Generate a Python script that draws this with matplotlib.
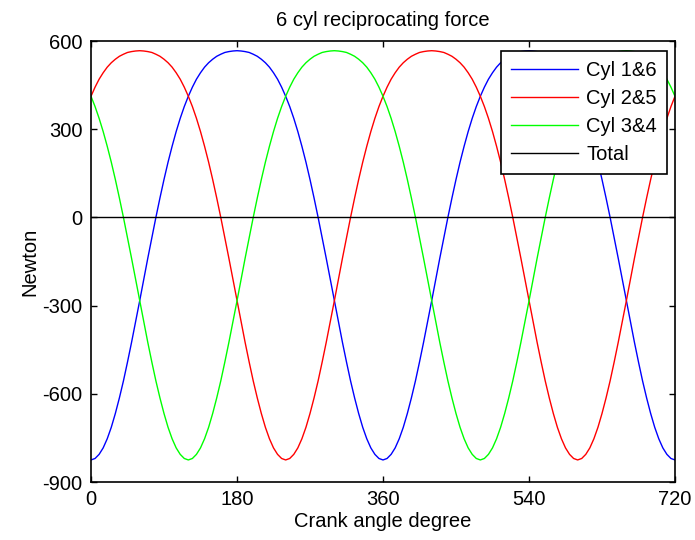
import matplotlib
matplotlib.use('Agg')
import matplotlib.pyplot as plt
import numpy as np

plt.rcParams['font.family'] = ['Liberation Sans', 'DejaVu Sans']
plt.rcParams['axes.unicode_minus'] = False

# one crank revolution, 5 degree steps
crank_rev = list(range(0, 360, 5))

# reciprocating force per cylinder pair over one revolution [N]
cyl16_rev = [-825, -820, -806, -784, -753, -714, -667, -614, -556, -492, -425, -355,
             -284, -211, -139, -69, 0, 66, 129, 188, 242, 292, 337, 377,
             412, 443, 470, 492, 511, 526, 538, 548, 555, 561, 564, 566,
             567, 566, 564, 561, 555, 548, 538, 526, 511, 492, 470, 443,
             412, 377, 337, 292, 242, 188, 129, 66, 0, -69, -139, -211,
             -284, -355, -425, -492, -556, -614, -667, -714, -753, -784, -806, -820]
cyl25_rev = [412, 443, 470, 492, 511, 526, 538, 548, 555, 561, 564, 566,
             567, 566, 564, 561, 555, 548, 538, 526, 511, 492, 470, 443,
             412, 377, 337, 292, 242, 188, 129, 66, 0, -69, -139, -211,
             -284, -355, -425, -492, -556, -614, -667, -714, -753, -784, -806, -820,
             -825, -820, -806, -784, -753, -714, -667, -614, -556, -492, -425, -355,
             -284, -211, -139, -69, 0, 66, 129, 188, 242, 292, 337, 377]
cyl34_rev = [412, 377, 337, 292, 242, 188, 129, 66, 0, -69, -139, -211,
             -284, -355, -425, -492, -556, -614, -667, -714, -753, -784, -806, -820,
             -825, -820, -806, -784, -753, -714, -667, -614, -556, -492, -425, -355,
             -284, -211, -139, -69, 0, 66, 129, 188, 242, 292, 337, 377,
             412, 443, 470, 492, 511, 526, 538, 548, 555, 561, 564, 566,
             567, 566, 564, 561, 555, 548, 538, 526, 511, 492, 470, 443]
total_rev = [0] * len(crank_rev)

labels = ['Cyl 1&6', 'Cyl 2&5', 'Cyl 3&4', 'Total']
x_ticks = [0, 180, 360, 540, 720]
y_ticks = [-900, -600, -300, 0, 300, 600]


def two_revs(rev):
    # repeat one revolution and close the cycle at 720 deg
    return rev + rev + rev[:1]


crank = [a for a in crank_rev] + [a + 360 for a in crank_rev] + [720]

FS = 14.5

fig = plt.figure(figsize=(6.95, 5.40), dpi=100)
ax = fig.add_axes([91 / 695, 58 / 540, 584 / 695, 441 / 540])

ax.plot(crank, two_revs(cyl16_rev), color=(0, 0, 1), lw=1.0, label=labels[0])
ax.plot(crank, two_revs(cyl25_rev), color=(1, 0, 0), lw=1.0, label=labels[1])
ax.plot(crank, two_revs(cyl34_rev), color=(0, 1, 0), lw=1.0, label=labels[2])
ax.plot(crank, two_revs(total_rev), color='k', lw=1.0, label=labels[3])

ax.set_xlim(0, 720)
ax.set_ylim(-900, 600)
ax.set_xticks(x_ticks)
ax.set_yticks(y_ticks)
ax.tick_params(direction='in', top=True, right=True, length=4, width=1.0,
               labelsize=FS, pad=6)
for s in ax.spines.values():
    s.set_linewidth(1.2)

ax.set_title('6 cyl reciprocating force', fontsize=FS, pad=11)
ax.set_xlabel('Crank angle degree', fontsize=FS, labelpad=2)
ax.set_ylabel('Newton', fontsize=FS, labelpad=2)

leg = ax.legend(loc='upper right', bbox_to_anchor=(0.986, 0.977),
                borderaxespad=0, fancybox=False, fontsize=FS,
                handlelength=3.3, handletextpad=0.4, labelspacing=0.45,
                borderpad=0.5)
leg.get_frame().set_edgecolor('k')
leg.get_frame().set_linewidth(1.2)
leg.get_frame().set_alpha(1)

fig.savefig('out.png', dpi=100)
